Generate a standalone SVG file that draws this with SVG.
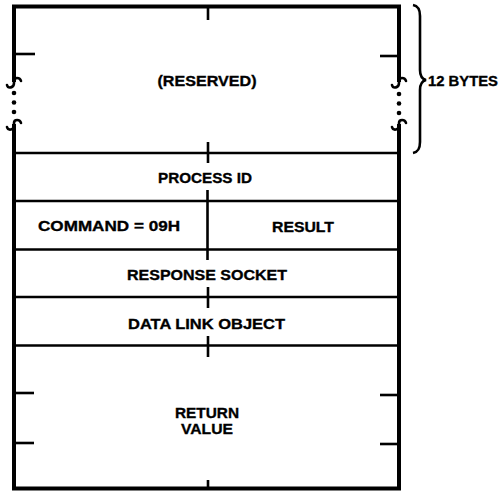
<svg xmlns="http://www.w3.org/2000/svg" width="501" height="491" viewBox="0 0 501 491">
  <style>
    .frame { fill: none; stroke: #000; stroke-width: 4; stroke-linecap: square; }
    .rule { fill: none; stroke: #000; stroke-width: 2.4; }
    .tick { fill: none; stroke: #000; stroke-width: 2.6; }
    .brk { fill: none; stroke: #000; stroke-width: 2.6; stroke-linecap: round; }
    .dot { fill: #000; }
    .lbl { font-family: "Liberation Sans", Arial, Helvetica, sans-serif; font-weight: bold; font-size: 15.5px; fill: #000; stroke: #000; stroke-width: 0.35; text-anchor: middle; }
  </style>

  <rect width="501" height="491" fill="#fff"/>

  <!-- outer frame with broken sides in the reserved area -->
  <g id="frame">
    <path class="frame" d="M14,80 L14,6.5 L399,6.5 L399,80"/>
    <path class="frame" d="M14,126 L14,488.5 L399,488.5 L399,126"/>
    <!-- break marks -->
    <path class="brk" d="M21,81 C20,77 14,77 14,81 L14,83 C14,88 8,89 7,85"/>
    <path class="brk" d="M21,123 C20,119 14,119 14,123 L14,126 C14,130 8,131 7,127"/>
    <path class="brk" d="M406,81 C405,77 399,77 399,81 L399,83 C399,88 393,89 392,85"/>
    <path class="brk" d="M406,123 C405,119 399,119 399,123 L399,126 C399,130 393,131 392,127"/>
    <circle class="dot" cx="14" cy="93" r="2.3"/>
    <circle class="dot" cx="14" cy="102.5" r="2.3"/>
    <circle class="dot" cx="14" cy="112" r="2.3"/>
    <circle class="dot" cx="399" cy="94" r="2.3"/>
    <circle class="dot" cx="399" cy="103.5" r="2.3"/>
    <circle class="dot" cx="399" cy="113" r="2.3"/>
  </g>

  <!-- field separators and byte ticks -->
  <g id="connectors">
    <line class="rule" x1="14" y1="153" x2="399" y2="153"/>
    <line class="rule" x1="14" y1="201" x2="399" y2="201"/>
    <line class="rule" x1="14" y1="249.5" x2="399" y2="249.5"/>
    <line class="rule" x1="14" y1="297" x2="399" y2="297"/>
    <line class="rule" x1="14" y1="345.5" x2="399" y2="345.5"/>

    <line class="tick" x1="208" y1="6" x2="208" y2="20"/>
    <line class="tick" x1="208" y1="142" x2="208" y2="163"/>
    <line class="tick" x1="207.5" y1="190" x2="207.5" y2="260"/>
    <line class="tick" x1="208" y1="287" x2="208" y2="308"/>
    <line class="tick" x1="208" y1="336" x2="208" y2="357"/>
    <line class="tick" x1="208" y1="480" x2="208" y2="488"/>

    <line class="tick" x1="14" y1="54" x2="35" y2="54"/>
    <line class="tick" x1="380" y1="56" x2="399" y2="56"/>
    <line class="tick" x1="14" y1="393" x2="34" y2="393"/>
    <line class="tick" x1="14" y1="443" x2="34" y2="443"/>
    <line class="tick" x1="380" y1="395" x2="399" y2="395"/>
    <line class="tick" x1="380" y1="444" x2="399" y2="444"/>
  </g>

  <g id="reserved">
    <text class="lbl" x="207" y="85.5" textLength="99" lengthAdjust="spacingAndGlyphs">(RESERVED)</text>
  </g>
  <g id="process-id">
    <text class="lbl" x="205" y="182.5" textLength="94" lengthAdjust="spacingAndGlyphs">PROCESS ID</text>
  </g>
  <g id="command">
    <text class="lbl" x="109" y="230.5" textLength="142" lengthAdjust="spacingAndGlyphs">COMMAND = 09H</text>
  </g>
  <g id="result">
    <text class="lbl" x="303" y="231.5" textLength="62" lengthAdjust="spacingAndGlyphs">RESULT</text>
  </g>
  <g id="response-socket">
    <text class="lbl" x="207" y="279.5" textLength="160" lengthAdjust="spacingAndGlyphs">RESPONSE SOCKET</text>
  </g>
  <g id="data-link-object">
    <text class="lbl" x="206.5" y="328.5" textLength="157" lengthAdjust="spacingAndGlyphs">DATA LINK OBJECT</text>
  </g>
  <g id="return-value">
    <text class="lbl" x="207" y="417.5" textLength="64" lengthAdjust="spacingAndGlyphs">RETURN</text>
    <text class="lbl" x="207" y="433.5" textLength="52" lengthAdjust="spacingAndGlyphs">VALUE</text>
  </g>

  <!-- size brace for the reserved area -->
  <g id="size-brace">
    <path fill="none" stroke="#000" stroke-width="2.6" d="M413,5 C418,6 420,9 420,16 L420,70 C420,76 422,79 426,80 C422,81 420,84 420,90 L420,142 C420,149 418,152 413,153"/>
    <text class="lbl" x="463" y="85.5" textLength="70" lengthAdjust="spacingAndGlyphs">12 BYTES</text>
  </g>
</svg>
